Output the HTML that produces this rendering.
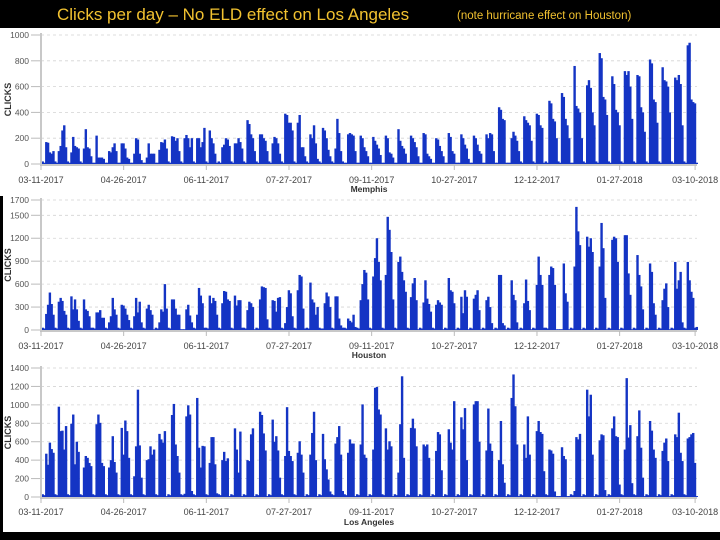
<!DOCTYPE html>
<html><head><meta charset="utf-8"><style>
html,body{margin:0;padding:0;background:#000;}
#wrap{position:relative;width:720px;height:540px;overflow:hidden;background:#000;}
svg{position:absolute;left:0;top:0;}
</style></head><body>
<div id="wrap">
<svg id="chart" width="720" height="540" viewBox="0 0 720 540" xmlns="http://www.w3.org/2000/svg">
<rect x="0" y="28" width="720" height="168" fill="#fff"/>
<rect x="3" y="196" width="717" height="336" fill="#fff"/>
<text x="57" y="20" font-family="Liberation Sans, sans-serif" font-size="17" fill="#f2c230">Clicks per day – No ELD effect on Los Angeles</text>
<text x="457" y="19" font-family="Liberation Sans, sans-serif" font-size="11.5" fill="#f2c230">(note hurricane effect on Houston)</text>
<g id="p1"></g>
<g id="p2"></g>
<g id="p3"></g>
</svg>
</div>
<script>
const dateLabels = ["03-11-2017","04-26-2017","06-11-2017","07-27-2017","09-11-2017","10-27-2017","12-12-2017","01-27-2018","03-10-2018"];
const dateTickDays = [0,46,92,138,184,230,276,322,364];
const memphisTicks = [0,200,400,600,800,1000];
const houstonTicks = [0,300,600,900,1200,1500,1700];
const laTicks = [0,200,400,600,800,1000,1200,1400];
const memphis = [
20,10,170,165,90,80,100, 20,10,100,140,260,300,130, 20,10,90,210,140,130,120, 20,10,120,270,130,120,60,
10,10,220,50,50,50,40, 10,10,100,90,130,160,100, 10,10,160,160,120,50,40, 10,10,80,200,190,80,30,
10,10,50,160,80,80,80, 10,10,110,170,165,190,120, 20,10,215,210,180,200,100, 20,10,200,225,200,130,200,
20,10,200,200,130,170,280, 20,10,260,200,160,80,10, 20,10,130,150,200,190,140, 20,10,160,160,200,170,120,
20,10,340,310,230,200,100, 20,10,230,230,200,180,100, 20,10,160,210,200,160,80, 20,10,390,380,320,320,260,
20,10,320,380,130,130,60, 20,10,230,200,300,160,40, 20,10,280,260,200,110,60, 20,10,120,350,240,100,20,
10,10,230,240,230,220,100, 10,10,220,200,130,100,60, 10,10,210,180,150,120,70, 10,10,220,200,90,80,50,
10,10,270,180,140,120,80, 10,10,220,200,170,130,60, 10,10,240,230,80,60,40, 10,10,200,190,140,100,60,
10,10,240,210,100,80,10, 10,10,230,200,150,120,40, 10,10,220,200,150,100,80, 10,10,230,200,240,230,100,
10,10,440,420,350,340,10, 10,10,200,250,220,180,100, 20,10,370,340,320,300,180, 20,10,390,380,300,280,10,
20,10,490,470,350,330,200, 20,10,550,520,350,300,200, 10,10,760,450,430,400,200, 20,10,610,650,590,400,300,
20,10,860,820,520,500,380, 20,10,680,620,420,400,300, 20,10,720,690,720,600,350, 20,10,690,680,440,400,250,
20,10,810,780,500,480,320, 20,10,750,650,640,600,400, 20,10,670,650,690,620,300, 20,10,920,940,500,480,470,
10];
const houston = [
30,20,210,330,490,340,200, 30,20,370,420,380,250,200, 30,20,440,270,400,270,120, 30,20,400,270,250,180,30,
30,20,230,230,260,160,160, 30,20,100,180,420,270,200, 30,20,330,320,280,200,130, 30,20,180,420,230,370,100,
30,20,280,330,260,200,10, 30,20,100,270,240,600,280, 30,20,400,400,280,200,200, 10,10,10,270,330,190,100,
30,20,200,550,450,350,30, 30,20,450,350,420,380,200, 30,20,350,510,500,400,380, 30,20,450,320,390,390,30,
30,20,260,370,350,300,10, 30,20,400,570,560,550,140, 30,20,390,380,240,420,430, 30,20,90,300,520,480,180,
30,20,520,720,700,280,20, 30,20,620,400,360,200,300, 30,20,20,350,490,440,300, 30,20,440,440,150,60,30,
30,20,150,120,100,200,40, 30,20,390,600,785,750,400, 30,20,700,940,1200,890,650, 30,20,720,1480,1310,1020,400,
30,20,890,960,760,650,500, 30,20,430,610,680,390,10, 30,20,360,650,410,340,240, 30,20,330,390,360,330,10,
30,20,680,520,500,350,10, 30,20,435,220,520,435,10, 30,20,410,460,520,260,10, 30,20,390,435,300,90,10,
30,20,720,720,90,60,10, 30,20,650,460,390,100,10, 30,20,350,660,380,260,10, 30,20,590,960,720,590,30,
30,20,720,830,810,590,10, 10,10,10,870,480,370,10, 30,20,830,1610,1290,1110,10, 30,20,1220,1090,1200,1020,10,
30,20,830,1400,1070,420,10, 30,20,1180,1220,1200,890,10, 30,20,1240,1240,740,460,10, 30,20,980,720,570,270,10,
30,20,870,760,350,200,10, 30,20,390,540,610,300,10, 30,20,890,540,650,760,100, 30,20,890,650,500,420,30,
40];
const losAngeles = [
30,20,470,350,590,520,480, 30,20,980,715,720,515,770, 30,20,795,895,355,600,490, 30,20,320,445,425,370,335,
30,20,790,895,805,370,335, 30,20,320,400,660,380,265, 30,20,750,460,830,715,425, 30,20,225,550,1165,560,210,
30,20,400,410,550,460,515, 30,20,685,625,590,715,10, 30,20,890,1010,570,445,265, 30,20,35,875,995,895,65,
30,20,1075,535,320,555,550, 30,20,370,650,650,355,40, 30,20,400,490,390,420,10, 30,20,745,515,265,710,10,
30,20,400,390,680,745,10, 30,20,925,890,690,505,10, 30,20,840,600,660,505,210, 30,20,445,975,500,445,390,
30,20,480,605,460,265,10, 30,20,460,695,925,400,10, 30,20,685,410,300,190,60, 30,20,580,650,770,460,65,
30,20,480,625,580,580,10, 30,20,570,1005,460,425,10, 30,20,515,1185,1195,950,895, 30,20,745,515,605,550,10,
30,20,265,790,1310,425,10, 30,20,750,850,745,550,10, 30,20,570,550,570,425,10, 30,20,500,705,680,290,10,
30,20,735,590,515,1040,10, 30,20,865,735,965,400,10, 30,20,1005,1040,1040,600,10, 30,20,505,960,580,500,10,
30,20,400,825,355,155,10, 30,20,1075,1330,985,570,10, 30,20,570,425,875,460,10, 30,20,715,825,705,685,280,
30,20,515,505,470,60,10, 10,10,540,445,410,10,10, 30,20,65,650,625,685,10, 30,20,1165,875,1110,460,10,
30,20,615,680,670,75,10, 30,20,745,875,660,650,135, 30,20,515,1290,645,780,150, 30,20,660,940,535,210,10,
30,20,825,720,515,425,10, 30,20,500,590,635,390,10, 30,20,680,650,915,480,390, 30,20,635,650,680,695,370,
10];

const NS = "http://www.w3.org/2000/svg";
const X0 = 41, DAY = 1.797;
function xOf(i){ return X0 + i*DAY; }
function mk(tag, attrs, parent){
  const e = document.createElementNS(NS, tag);
  for (const k in attrs) e.setAttribute(k, attrs[k]);
  parent.appendChild(e);
  return e;
}
function panel(gid, vals, ticks, maxVal, y0, yTop, city, labelY, cityY){
  const g = document.getElementById(gid);
  const yOf = v => y0 - (v/maxVal)*(y0-yTop);
  ticks.forEach(t => {
    const y = yOf(t);
    if (t > 0) {
      const gl = mk('line',{x1:X0,x2:697,y1:y,y2:y,stroke:'#d4d4d4','stroke-width':0.8,'stroke-dasharray':'3,3'},g);
      
      
    }
    const tl = mk('text',{x:29,y:y+3,'text-anchor':'end','font-family':'Liberation Sans, sans-serif','font-size':8.5,fill:'#555'},g);
    tl.textContent = t;
    
    
    const tk = mk('line',{x1:31,x2:X0,y1:y,y2:y,stroke:'#bbb','stroke-width':1},g);
    
    
  });
  vals.forEach((v,i) => {
    const r = mk('rect',{x:xOf(i)+0.5,y:yOf(v),width:DAY+0.6,height:Math.max(0,y0-yOf(v)),fill:'#1434c4'},g);
    
    
  });
  const ya = mk('line',{x1:X0,x2:X0,y1:yTop-2,y2:y0+2,stroke:'#c8c8c8','stroke-width':2},g);
  
  
  const xa = mk('line',{x1:X0,x2:697,y1:y0+1,y2:y0+1,stroke:'#c8c8c8','stroke-width':2},g);
  
  
  dateTickDays.forEach((d,k) => {
    const x = xOf(d);
    const tk = mk('line',{x1:x,x2:x,y1:y0+1,y2:y0+6,stroke:'#bbb','stroke-width':1},g);
    
    
    const tl = mk('text',{x:x,y:labelY,'text-anchor':'middle','font-family':'Liberation Sans, sans-serif','font-size':9,fill:'#444'},g);
    tl.textContent = dateLabels[k];
    
    
  });
  const yt = mk('text',{x:0,y:0,transform:'translate(11,'+((y0+yTop)/2)+') rotate(-90)','text-anchor':'middle','font-family':'Liberation Sans, sans-serif','font-size':9,'font-weight':'bold',fill:'#333'},g);
  yt.textContent = 'CLICKS';
  
  
  const ct = mk('text',{x:369,y:cityY,'text-anchor':'middle','font-family':'Liberation Sans, sans-serif','font-size':8.5,'font-weight':'bold',fill:'#333'},g);
  ct.textContent = city;
  
  
}
panel('p1', memphis, memphisTicks, 1000, 164, 35, 'Memphis', 183, 192);
panel('p2', houston, houstonTicks, 1700, 330, 200, 'Houston', 349, 358);
panel('p3', losAngeles, laTicks, 1400, 497, 368, 'Los Angeles', 515, 525);
</script>
</body></html>
